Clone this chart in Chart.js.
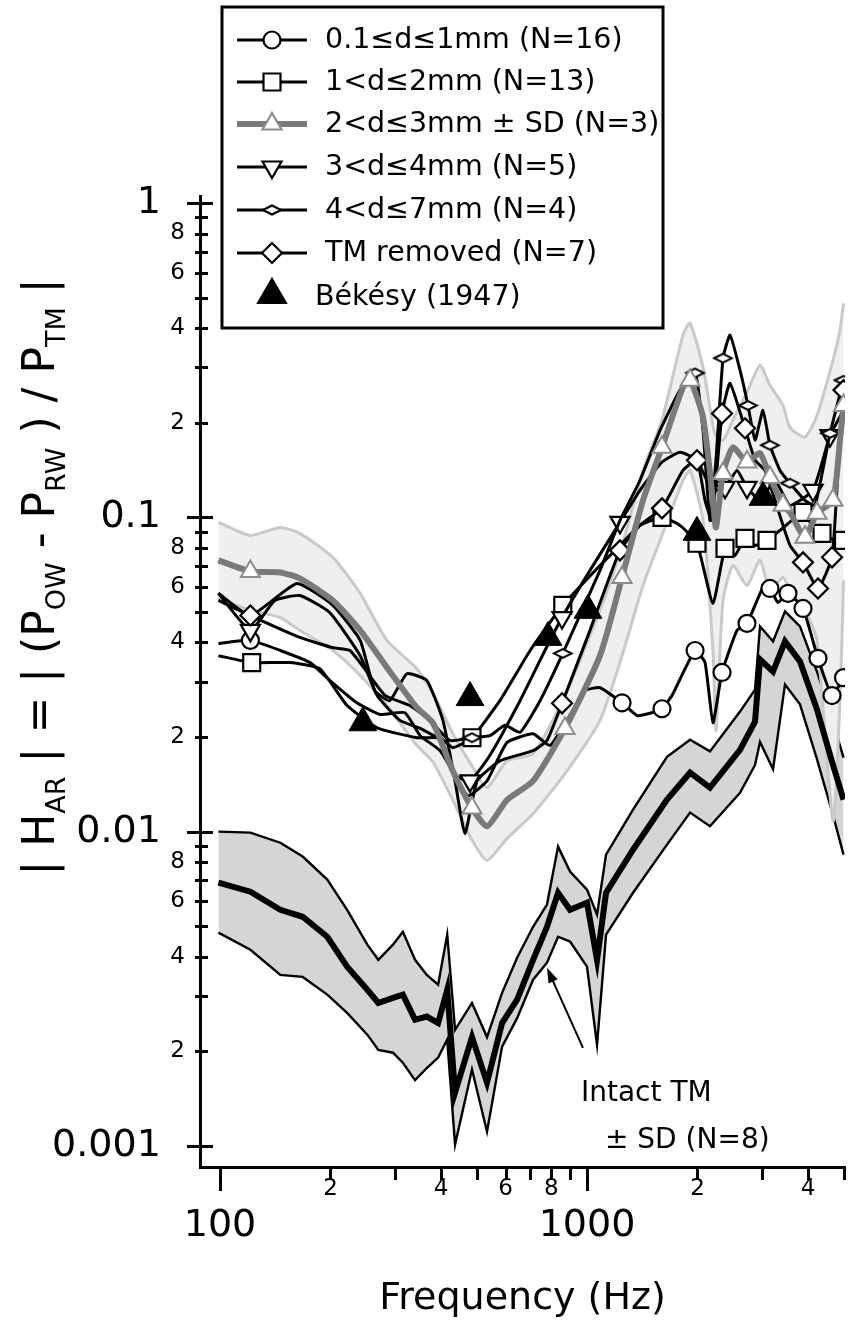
<!DOCTYPE html>
<html>
<head>
<meta charset="utf-8">
<script src="https://cdn.jsdelivr.net/npm/chart.js@4.4.1/dist/chart.umd.min.js"></script>
<style>
html,body{margin:0;padding:0;background:#fff;overflow:hidden;}
canvas{display:block;}
</style>
</head>
<body>
<canvas id="chart" width="849" height="1334"></canvas>
<script>
// ---------------- data ----------------
const intactFreq  = [99,121,146,168,196,222,252,270,296,315,340,366,393,416,437,486,534,587,645,713,778,834,899,1000,1065,1127,1335,1652,1909,2163,2612,2870,2961,3213,3464,3805,4233,4680,5000];
const intactMean  = [0.00688,0.00644,0.00564,0.00536,0.00463,0.00372,0.00314,0.00285,0.00296,0.00303,0.00252,0.00258,0.00246,0.00314,0.00148,0.00222,0.00159,0.00246,0.00292,0.00391,0.00498,0.00639,0.00564,0.00594,0.00391,0.00639,0.00876,0.01264,0.0154,0.0138,0.0182,0.0224,0.0353,0.0323,0.0403,0.0348,0.0245,0.0163,0.01264];
const intactUpper = [0.0100,0.00993,0.00922,0.00833,0.00704,0.00564,0.00437,0.00391,0.00437,0.00480,0.00391,0.00350,0.00326,0.00470,0.00234,0.00285,0.00222,0.00307,0.00397,0.00498,0.00586,0.00896,0.00746,0.00654,0.00544,0.00845,0.01175,0.0173,0.0196,0.0180,0.0241,0.0283,0.0450,0.0403,0.0502,0.0450,0.0323,0.0224,0.0172];
const intactLower = [0.00477,0.00421,0.00350,0.00345,0.00303,0.00265,0.00226,0.00202,0.00198,0.00184,0.00162,0.00177,0.00191,0.00218,0.00101,0.00175,0.00111,0.00207,0.00255,0.00338,0.00383,0.00463,0.00447,0.00372,0.00210,0.00470,0.00639,0.00909,0.0115,0.0104,0.0133,0.0163,0.0193,0.0158,0.0294,0.0254,0.0170,0.0113,0.00845];

const d23Freq    = [99,121,146,165,203,241,285,344,381,431,486,534,605,713,871,1085,1246,1421,1601,1826,1909,2071,2204,2246,2348,2499,2729,2961,3152,3420,3574,3926,4233,4680,4891,5000];
const d23Mean    = [0.0730,0.0673,0.0668,0.0639,0.0544,0.0437,0.0333,0.0248,0.0221,0.0156,0.0119,0.0104,0.0126,0.0145,0.0213,0.0363,0.0644,0.1133,0.167,0.259,0.273,0.208,0.1133,0.0929,0.138,0.167,0.150,0.160,0.134,0.1092,0.1037,0.0864,0.1030,0.1133,0.176,0.227];
const d23Upper   = [0.0964,0.0876,0.0929,0.0889,0.0746,0.0573,0.0406,0.0330,0.0275,0.0205,0.0162,0.0138,0.0168,0.0177,0.0271,0.0506,0.0814,0.141,0.204,0.380,0.415,0.300,0.196,0.182,0.176,0.204,0.250,0.305,0.263,0.227,0.193,0.180,0.211,0.316,0.394,0.480];
const d23Lower   = [0.0552,0.0506,0.0480,0.0437,0.0377,0.0314,0.0252,0.0188,0.0166,0.0126,0.0094,0.0081,0.0095,0.0114,0.0153,0.0226,0.0363,0.0607,0.0876,0.131,0.141,0.0978,0.0377,0.0210,0.0544,0.0703,0.0607,0.0730,0.0586,0.0644,0.0586,0.0506,0.0406,0.0108,0.0261,0.0630];
const d23Markers = [121,486,871,1246,1601,1909,2348,2729,3152,3420,3926,4233,4680,5000];

const d01Freq    = [99,121,146,176,199,236,273,319,351,398,437,474,534,605,713,793,882,988,1085,1246,1369,1485,1601,1704,1970,2097,2204,2333,2563,2729,3017,3152,3314,3529,3878,4260,4652,5000];
const d01Val     = [0.0397,0.0406,0.0377,0.0345,0.0303,0.0257,0.0236,0.0239,0.0202,0.0181,0.0151,0.0130,0.0145,0.0192,0.0205,0.0188,0.0226,0.0281,0.0287,0.0257,0.0234,0.0238,0.0246,0.0271,0.0377,0.0345,0.0222,0.0321,0.0437,0.0460,0.0598,0.0594,0.0536,0.0573,0.0513,0.0356,0.0271,0.0309];
const d01Markers = [121,1246,1601,1970,2333,2729,3152,3529,3878,4260,4652,5000];

const d12Freq    = [99,122,155,187,222,268,344,398,431,486,579,700,859,1085,1230,1394,1601,1792,1994,2204,2377,2531,2695,2870,3094,3357,3878,4103,4369,4740,5000];
const d12Val     = [0.0363,0.0345,0.0345,0.0330,0.0252,0.0214,0.0199,0.0199,0.0185,0.0199,0.0261,0.0377,0.0525,0.0703,0.0814,0.0943,0.100,0.0943,0.0827,0.0532,0.0797,0.0757,0.0857,0.0814,0.0845,0.0909,0.1037,0.0943,0.0889,0.0845,0.0845];
const d12Markers = [122,486,859,1601,1994,2377,2695,3094,3878,4369,5000];

const d34Freq    = [99,121,141,165,199,241,268,309,351,398,437,480,544,657,768,855,1019,1230,1394,1601,1792,1994,2191,2377,2563,2729,2961,3253,3574,4129,4594,5000];
const d34Val     = [0.0573,0.0437,0.0544,0.0564,0.0498,0.0363,0.0271,0.0226,0.0213,0.0195,0.0151,0.0145,0.0175,0.0261,0.0377,0.0480,0.0678,0.0964,0.1219,0.150,0.161,0.152,0.1219,0.1246,0.141,0.1246,0.1133,0.131,0.1092,0.1219,0.182,0.219];
const d34Markers = [121,480,855,1230,2377,2729,4129,4594];

const d47Freq    = [99,121,165,203,226,252,282,329,373,423,486,544,598,657,745,859,1085,1230,1394,1581,1792,1970,2071,2163,2246,2348,2453,2612,2746,2870,3017,3152,3357,3574,3926,4181,4594,5000];
const d47Val     = [0.0544,0.0487,0.0415,0.0385,0.0377,0.0321,0.0271,0.0252,0.0226,0.0195,0.0199,0.0202,0.0218,0.0207,0.0261,0.0369,0.0678,0.0978,0.131,0.189,0.254,0.288,0.189,0.0978,0.152,0.321,0.380,0.294,0.227,0.176,0.219,0.1696,0.141,0.1284,0.1133,0.1092,0.185,0.273];
const d47Markers = [486,859,1970,2348,2746,3152,3574,4594,5000];

const tmRemFreq    = [99,121,162,203,241,264,290,323,366,405,437,465,502,579,713,778,855,1019,1230,1394,1601,1826,1994,2097,2191,2333,2453,2695,2870,3055,3253,3574,3878,4260,4652,4830,5000];
const tmRemVal     = [0.0573,0.0487,0.0616,0.0525,0.0406,0.0281,0.0261,0.0318,0.0303,0.0226,0.0145,0.00985,0.0145,0.0168,0.0181,0.0195,0.0256,0.0437,0.0785,0.0943,0.1068,0.141,0.152,0.1133,0.0978,0.214,0.267,0.192,0.152,0.141,0.1133,0.0814,0.0719,0.0594,0.0746,0.141,0.254];
const tmRemMarkers = [121,855,1230,1601,1994,2333,2695,3878,4260,4652,5000];

const bekesyFreq = [245,480,783,1006,1994,3017];
const bekesyVal  = [0.0222,0.0267,0.0415,0.0506,0.0896,0.1158];

const legendLabels = ['0.1≤d≤1mm (N=16)','1<d≤2mm (N=13)','2<d≤3mm ± SD (N=3)','3<d≤4mm (N=5)','4<d≤7mm (N=4)','TM removed (N=7)','Békésy (1947)'];
const noteLines = ['Intact TM','± SD (N=8)'];
const xTitle = 'Frequency (Hz)';
const yTitleParts = [['| H',0],['AR',1],[' | = | (P',0],['OW',1],[' - P',0],['RW',1],[' ) / P',0],['TM',1],[' |',0]];

const xTickValues = [100,200,300,400,500,600,700,800,900,1000,2000,3000,4000,5000];
const xTickLabels = ['100','2','','4','','6','','8','','1000','2','','4',''];
const xMajorValues = [100,1000];
const yTickValues = [0.001,0.002,0.003,0.004,0.005,0.006,0.007,0.008,0.009,0.01,0.02,0.03,0.04,0.05,0.06,0.07,0.08,0.09,0.1,0.2,0.3,0.4,0.5,0.6,0.7,0.8,0.9,1];
const yTickLabels = ['0.001','2','','4','','6','','8','','0.01','2','','4','','6','','8','','0.1','2','','4','','6','','8','','1'];
const yMajorValues = [0.001,0.01,0.1,1];

// arrow of the "Intact TM" note, in data units
const noteTip  = {f: 778, v: 0.00369};
const noteTail = {f: 975, v: 0.00205};

// ---------------- rendering ----------------
const FONT = '"DejaVu Sans", "Noto Sans", sans-serif';
const PLOT = {left: 200, right: 845, top: 196, bottom: 1167};
const pts = (f, v) => f.map((x, i) => ({x: x, y: v[i]}));
const mr = (freqs, marks, r) => (ctx) => marks.includes(freqs[ctx.dataIndex]) ? r : 0;
const zeroPad = () => ({left: 0, top: 0, right: 0, bottom: 0});

function smallDiamond(w, h) {
  const c = document.createElement('canvas');
  c.width = w + 4; c.height = h + 4;
  const g = c.getContext('2d');
  g.beginPath();
  g.moveTo(2, h / 2 + 2); g.lineTo(w / 2 + 2, 2); g.lineTo(w + 2, h / 2 + 2); g.lineTo(w / 2 + 2, h + 2);
  g.closePath();
  g.fillStyle = '#fff'; g.fill();
  g.lineWidth = 2; g.strokeStyle = '#000'; g.stroke();
  return c;
}
const smallDia = smallDiamond(18, 9);

function blackSeries(label, f, v, marks, style, r, extra) {
  return Object.assign({
    label: label, data: pts(f, v), borderColor: '#000', borderWidth: 3, tension: 0.15,
    pointStyle: style, pointRadius: mr(f, marks, r), pointBackgroundColor: '#fff',
    pointBorderColor: '#000', pointBorderWidth: 2.2, fill: false
  }, extra || {});
}

const datasets = [
  {label: 'Intact upper', data: pts(intactFreq, intactUpper), borderColor: '#000', borderWidth: 2.4, pointRadius: 0,
   fill: '+1', backgroundColor: '#d5d5d5', order: 21, tension: 0},
  {label: 'Intact lower', data: pts(intactFreq, intactLower), borderColor: '#000', borderWidth: 2.4, pointRadius: 0,
   fill: false, order: 20, tension: 0},
  {label: 'SD upper', data: pts(d23Freq, d23Upper), borderColor: '#c9c9c9', borderWidth: 3, pointRadius: 0,
   fill: '+1', backgroundColor: '#efefef', order: 19, tension: 0.2},
  {label: 'SD lower', data: pts(d23Freq, d23Lower), borderColor: '#c9c9c9', borderWidth: 3, pointRadius: 0,
   fill: false, order: 18, tension: 0.2},
  {label: 'Intact TM ± SD (N=8)', data: pts(intactFreq, intactMean), borderColor: '#000', borderWidth: 6, pointRadius: 0,
   fill: false, order: 12, tension: 0},
  blackSeries(legendLabels[0], d01Freq, d01Val, d01Markers, 'circle', 8.5, {order: 8}),
  blackSeries(legendLabels[1], d12Freq, d12Val, d12Markers, 'rect', 12, {order: 7}),
  blackSeries(legendLabels[3], d34Freq, d34Val, d34Markers, 'triangle', 11, {order: 6, pointRotation: 180}),
  blackSeries(legendLabels[4], d47Freq, d47Val, d47Markers, smallDia, 6, {order: 5}),
  blackSeries(legendLabels[5], tmRemFreq, tmRemVal, tmRemMarkers, 'rectRot', 10, {order: 4}),
  {label: legendLabels[2], data: pts(d23Freq, d23Mean), borderColor: '#7a7a7a', borderWidth: 6, tension: 0.2,
   pointStyle: 'triangle', pointRadius: mr(d23Freq, d23Markers, 11), pointBackgroundColor: '#fff',
   pointBorderColor: '#8c8c8c', pointBorderWidth: 2, fill: false, order: 2},
  {label: legendLabels[6], data: pts(bekesyFreq, bekesyVal), showLine: false, pointStyle: 'triangle', pointRadius: 16,
   pointBackgroundColor: '#000', pointBorderColor: '#000', pointBorderWidth: 1, order: 0}
];

function marker(ctx, kind, x, y) {
  ctx.save();
  ctx.lineWidth = 2.2; ctx.strokeStyle = '#000'; ctx.fillStyle = '#fff';
  ctx.beginPath();
  if (kind === 'circle') { ctx.arc(x, y, 8.5, 0, Math.PI * 2); }
  else if (kind === 'rect') { ctx.rect(x - 8.5, y - 8.5, 17, 17); }
  else if (kind === 'tri' || kind === 'grayTri' || kind === 'fillTri') {
    const r = kind === 'fillTri' ? 16 : 11;
    ctx.moveTo(x, y - r); ctx.lineTo(x + r * 0.866, y + r / 2); ctx.lineTo(x - r * 0.866, y + r / 2); ctx.closePath();
    if (kind === 'grayTri') ctx.strokeStyle = '#8c8c8c';
    if (kind === 'fillTri') ctx.fillStyle = '#000';
  }
  else if (kind === 'downTri') {
    const r = 11;
    ctx.moveTo(x, y + r); ctx.lineTo(x + r * 0.866, y - r / 2); ctx.lineTo(x - r * 0.866, y - r / 2); ctx.closePath();
  }
  else if (kind === 'smallDia') { ctx.moveTo(x - 9, y); ctx.lineTo(x, y - 4.5); ctx.lineTo(x + 9, y); ctx.lineTo(x, y + 4.5); ctx.closePath(); }
  else if (kind === 'dia') { ctx.moveTo(x - 10, y); ctx.lineTo(x, y - 10); ctx.lineTo(x + 10, y); ctx.lineTo(x, y + 10); ctx.closePath(); }
  ctx.fill(); ctx.stroke();
  ctx.restore();
}

const decorPlugin = {
  id: 'decor',
  afterDraw(chart) {
    const ctx = chart.ctx, a = chart.chartArea, xs = chart.scales.x, ys = chart.scales.y;
    ctx.save();
    // tick marks
    ctx.strokeStyle = '#000'; ctx.lineWidth = 3;
    yTickValues.forEach(v => {
      const py = Math.round(ys.getPixelForValue(v)) + 0.5;
      const maj = yMajorValues.includes(v);
      ctx.beginPath(); ctx.moveTo(a.left - (maj ? 13 : 5), py); ctx.lineTo(a.left + (maj ? 13 : 8), py); ctx.stroke();
    });
    xTickValues.forEach(v => {
      const px = Math.round(xs.getPixelForValue(v)) + 0.5;
      const maj = xMajorValues.includes(v);
      ctx.beginPath(); ctx.moveTo(px, a.bottom); ctx.lineTo(px, a.bottom + (maj ? 24 : 13)); ctx.stroke();
    });

    // y title with subscripts
    ctx.fillStyle = '#000'; ctx.textBaseline = 'alphabetic'; ctx.textAlign = 'left';
    const big = 44, small = 27;
    ctx.translate(54, 577);
    ctx.rotate(-Math.PI / 2);
    let total = 0;
    yTitleParts.forEach(([t, s]) => { ctx.font = (s ? small : big) + 'px ' + FONT; total += ctx.measureText(t).width; });
    let cx = -total / 2;
    yTitleParts.forEach(([t, s]) => {
      ctx.font = (s ? small : big) + 'px ' + FONT;
      ctx.fillText(t, cx, s ? 11 : 0);
      cx += ctx.measureText(t).width;
    });
    ctx.restore();

    // legend box
    ctx.save();
    const bx = 222, by = 7, bw = 441, bh = 321;
    ctx.fillStyle = '#fff'; ctx.fillRect(bx, by, bw, bh);
    ctx.lineWidth = 3; ctx.strokeStyle = '#000'; ctx.strokeRect(bx, by, bw, bh);
    const rows = [40, 82, 124, 167, 210, 253, 297];
    const kinds = ['circle', 'rect', 'grayTri', 'downTri', 'smallDia', 'dia', 'fillTri'];
    ctx.font = '28.5px ' + FONT; ctx.textBaseline = 'middle'; ctx.textAlign = 'left';
    rows.forEach((ry, i) => {
      if (i < 6) {
        ctx.beginPath(); ctx.moveTo(237, ry); ctx.lineTo(307, ry);
        ctx.strokeStyle = i === 2 ? '#7a7a7a' : '#000'; ctx.lineWidth = i === 2 ? 6 : 3; ctx.stroke();
      }
      marker(ctx, kinds[i], 272, i === 6 ? ry - 2 : ry);
      ctx.fillStyle = '#000';
      ctx.fillText(legendLabels[i], i === 6 ? 315 : 325, ry + 1);
    });
    ctx.restore();

    // note with arrow
    ctx.save();
    const tx = xs.getPixelForValue(noteTip.f), ty = ys.getPixelForValue(noteTip.v);
    const sx = xs.getPixelForValue(noteTail.f), sy = ys.getPixelForValue(noteTail.v);
    ctx.strokeStyle = '#000'; ctx.fillStyle = '#000'; ctx.lineWidth = 2;
    const ang = Math.atan2(ty - sy, tx - sx);
    ctx.beginPath(); ctx.moveTo(sx, sy); ctx.lineTo(tx - 10 * Math.cos(ang), ty - 10 * Math.sin(ang)); ctx.stroke();
    ctx.beginPath(); ctx.moveTo(tx, ty);
    ctx.lineTo(tx - 15 * Math.cos(ang) + 5 * Math.sin(ang), ty - 15 * Math.sin(ang) - 5 * Math.cos(ang));
    ctx.lineTo(tx - 15 * Math.cos(ang) - 5 * Math.sin(ang), ty - 15 * Math.sin(ang) + 5 * Math.cos(ang));
    ctx.closePath(); ctx.fill();
    ctx.font = '28px ' + FONT; ctx.textBaseline = 'middle'; ctx.textAlign = 'left';
    ctx.fillText(noteLines[0], sx - 2, sy + 46);
    ctx.fillText(noteLines[1], sx + 22, sy + 93);
    ctx.restore();
  }
};

const chart = new Chart(document.getElementById('chart'), {
  type: 'line',
  data: {datasets: datasets},
  options: {
    responsive: false, maintainAspectRatio: false, animation: false, devicePixelRatio: 1,
    layout: {autoPadding: false, padding: {top: PLOT.top, right: 849 - PLOT.right, left: 0, bottom: 0}},
    plugins: {legend: {display: false}, title: {display: false}, tooltip: {enabled: false}, filler: {propagate: false}},
    elements: {point: {hitRadius: 0, hoverRadius: 0}},
    scales: {
      x: {
        type: 'logarithmic', position: 'bottom', min: 88.2, max: 5047,
        afterFit: (s) => { s.height = 1334 - PLOT.bottom; s.paddingLeft = 0; s.paddingRight = 0; s.getPadding = zeroPad; },
        afterBuildTicks: (s) => { s.ticks = xTickValues.map(v => ({value: v})); },
        grid: {display: false, drawTicks: false},
        border: {display: true, color: '#000', width: 3},
        ticks: {
          autoSkip: false, maxRotation: 0, minRotation: 0, padding: 8, color: '#000',
          callback: (v, i) => xMajorValues.includes(xTickValues[i]) ? ['', xTickLabels[i]] : xTickLabels[i],
          font: (c) => xMajorValues.includes(xTickValues[c.index]) ? {family: FONT, size: 38, lineHeight: 0.9} : {family: FONT, size: 23, lineHeight: 1.2}
        },
        title: {display: true, text: xTitle, color: '#000', font: {family: FONT, size: 38}, padding: {top: 0, bottom: 12}}
      },
      y: {
        type: 'logarithmic', position: 'left', min: 0.000857, max: 1.053,
        afterFit: (s) => { s.width = PLOT.left; s.paddingTop = 0; s.paddingBottom = 0; s.getPadding = zeroPad; },
        afterBuildTicks: (s) => { s.ticks = yTickValues.map(v => ({value: v})); },
        grid: {display: false, drawTicks: false},
        border: {display: true, color: '#000', width: 3},
        ticks: {
          autoSkip: false, padding: 15, color: '#000',
          callback: (v, i) => yMajorValues.includes(yTickValues[i]) ? yTickLabels[i] + '  ' : yTickLabels[i],
          font: (c) => yMajorValues.includes(yTickValues[c.index]) ? {family: FONT, size: 38} : {family: FONT, size: 23}
        }
      }
    }
  },
  plugins: [decorPlugin]
});
// correct any residual offset of the plotting area
const dr = PLOT.right - chart.chartArea.right;
if (Math.abs(dr) > 0.5) {
  chart.options.layout.padding.right = (849 - PLOT.right) - dr;
  chart.update();
}
</script>
</body>
</html>
